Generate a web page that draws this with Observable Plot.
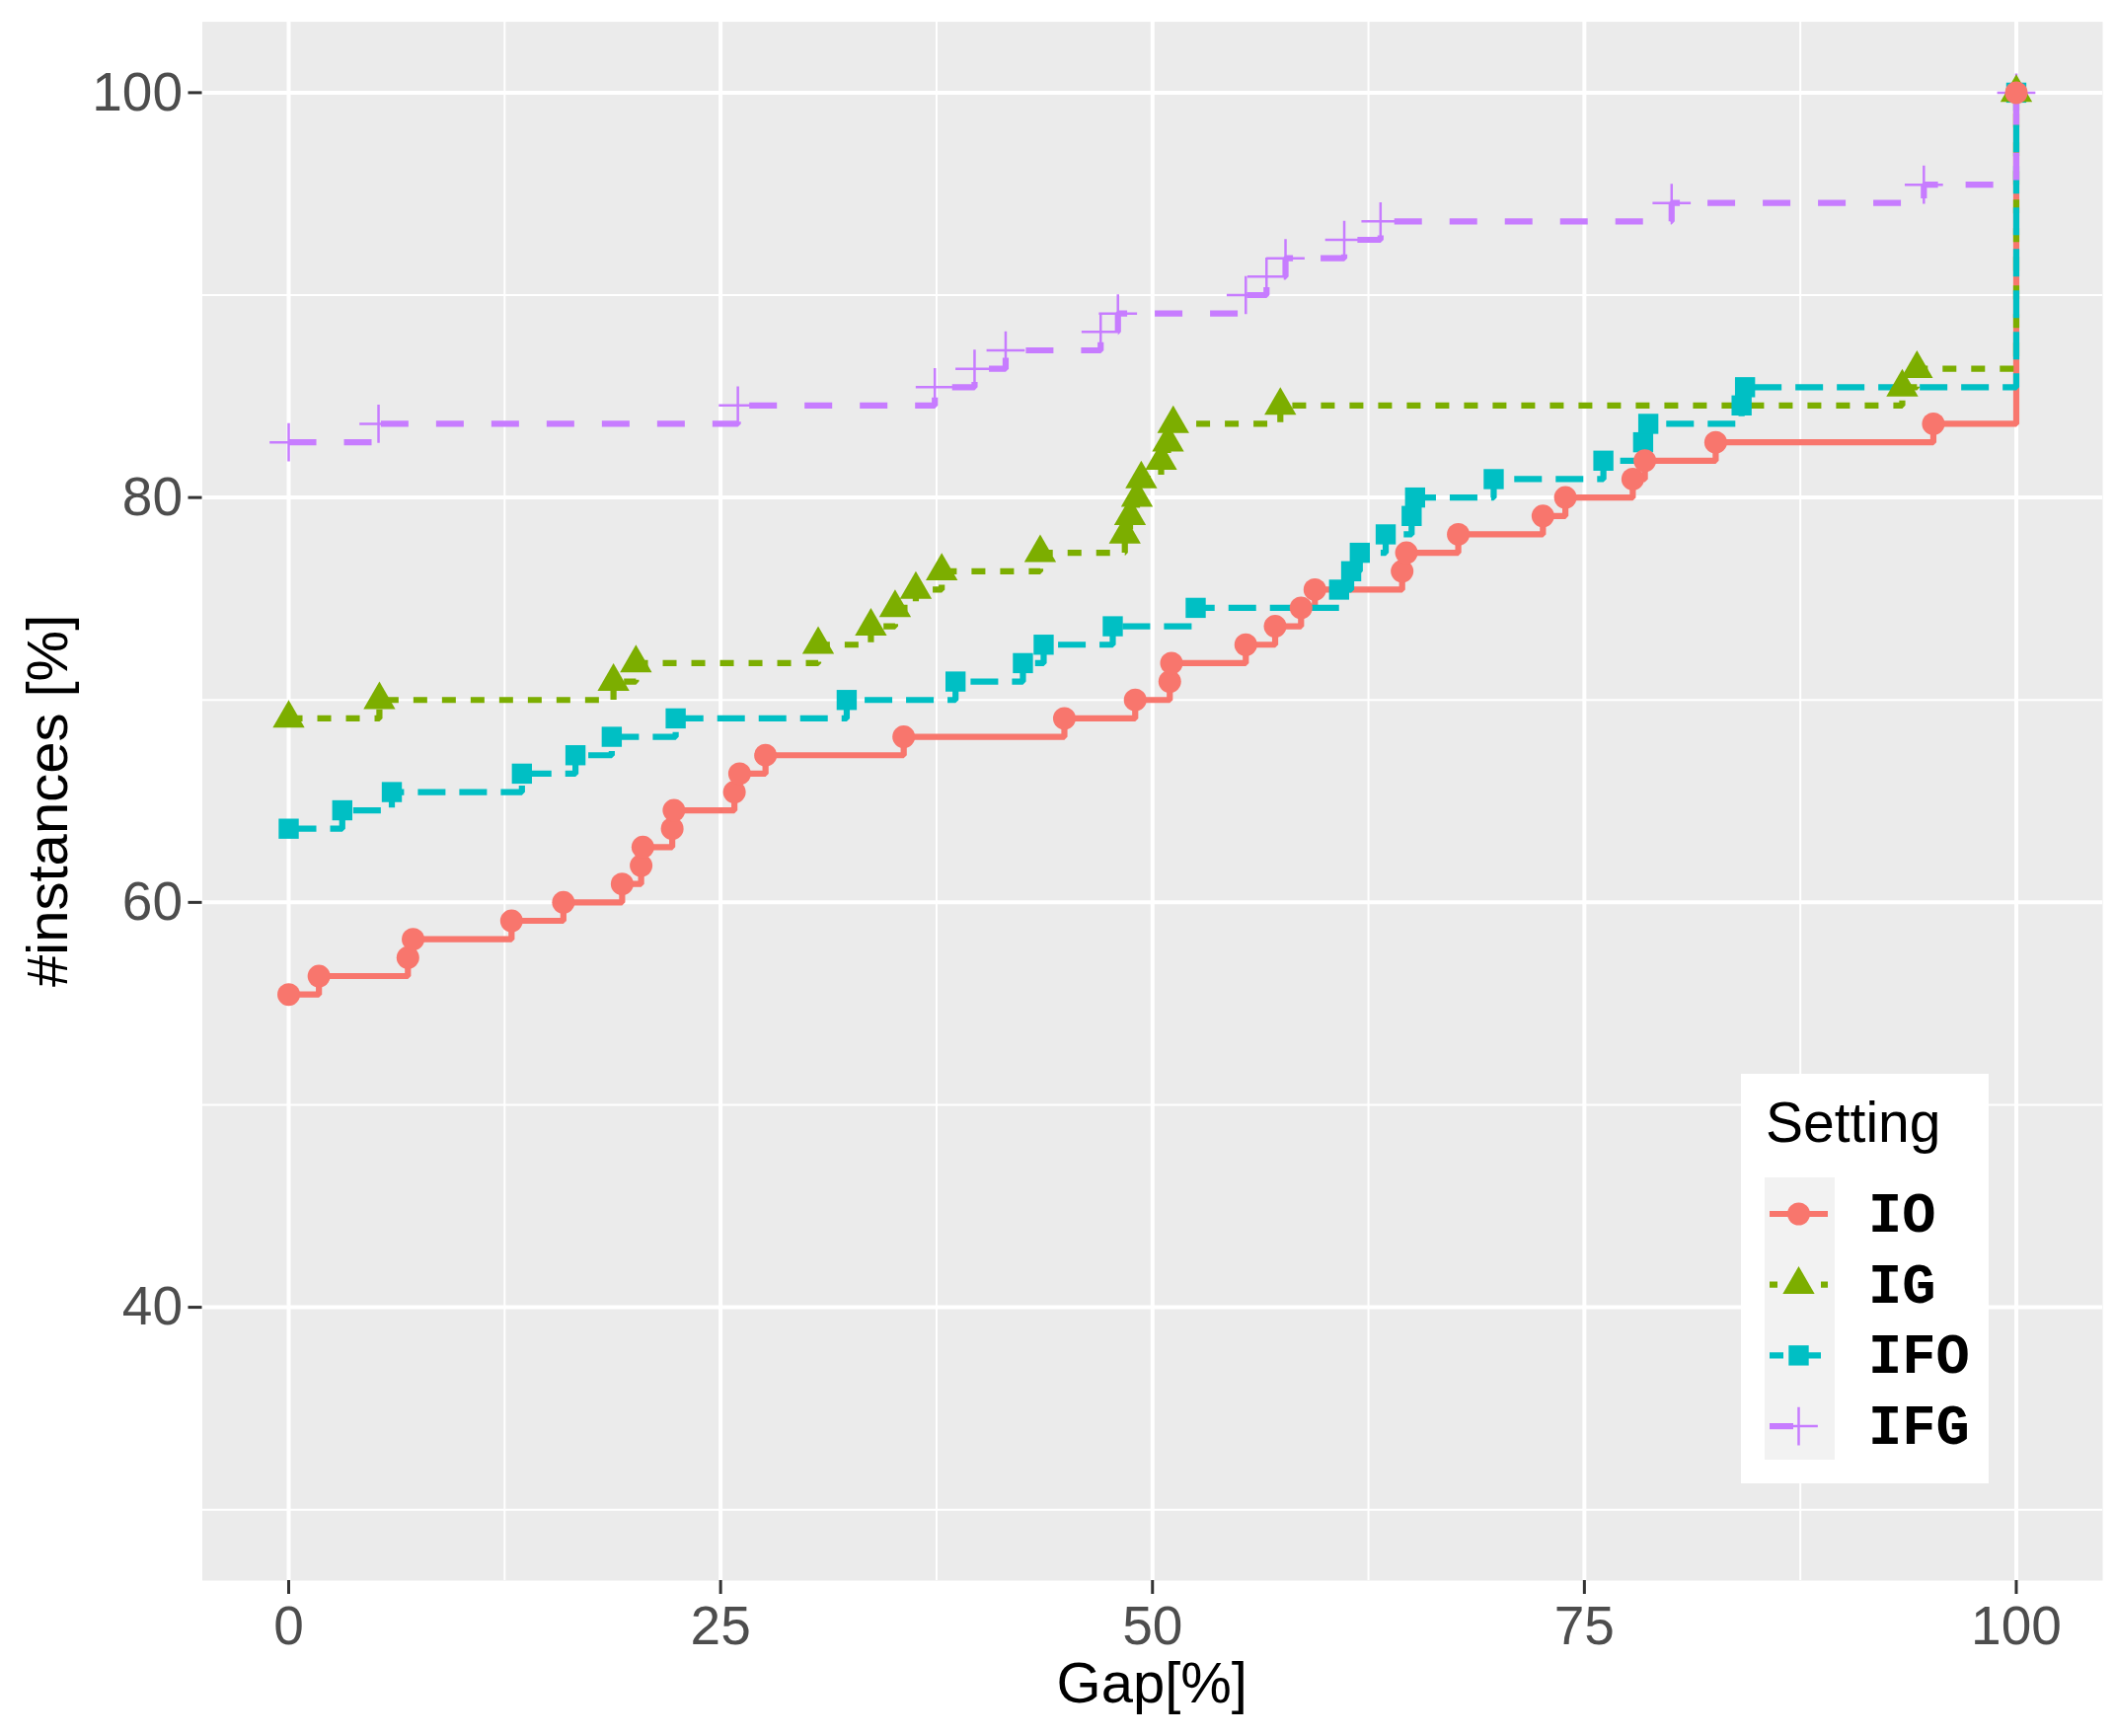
<!DOCTYPE html>
<html>
<head>
<meta charset="utf-8">
<script src="https://cdn.jsdelivr.net/npm/d3@7"></script>
<script src="https://cdn.jsdelivr.net/npm/@observablehq/plot@0.6"></script>
<style>
  html, body { margin: 0; padding: 0; background: #ffffff; overflow: hidden; }
  #chart svg { display: block; }
</style>
</head>
<body>
<div id="chart"></div>
<script>
// ---------------- data ----------------
const settings = ["IO", "IG", "IFO", "IFG"];
const colors   = ["#F8766D", "#7CAE00", "#00BFC4", "#C77CFF"];

const ioGap  = [0, 1.75, 6.9, 7.2, 12.9, 15.9, 19.3, 20.4, 20.5, 22.2, 22.3, 25.8, 26.1, 27.6, 35.6, 44.9, 49.0, 51.0, 51.1, 55.4, 57.1, 58.6, 59.4, 64.45, 64.7, 67.7, 72.6, 73.9, 77.8, 78.5, 82.6, 95.2, 100];
const ioInst = [55.45, 56.36, 57.27, 58.18, 59.09, 60.00, 60.91, 61.82, 62.73, 63.64, 64.55, 65.45, 66.36, 67.27, 68.18, 69.09, 70.00, 70.91, 71.82, 72.73, 73.64, 74.55, 75.45, 76.36, 77.27, 78.18, 79.09, 80.00, 80.91, 81.82, 82.73, 83.64, 100];

const igGap  = [0, 5.25, 18.8, 20.1, 30.65, 33.7, 35.1, 36.3, 37.8, 43.5, 48.4, 48.7, 49.1, 49.35, 50.5, 50.9, 51.2, 57.4, 93.4, 94.25, 100];
const igInst = [69.09, 70.00, 70.91, 71.82, 72.73, 73.64, 74.55, 75.45, 76.36, 77.27, 78.18, 79.09, 80.00, 80.91, 81.82, 82.73, 83.64, 84.55, 85.45, 86.36, 100];

const ifoGap  = [0, 3.1, 5.97, 13.5, 16.6, 18.7, 22.4, 32.3, 38.6, 42.5, 43.7, 47.7, 52.5, 60.8, 61.5, 62.0, 63.5, 65.0, 65.2, 69.75, 76.1, 78.4, 78.7, 84.1, 84.3, 100];
const ifoInst = [63.64, 64.55, 65.45, 66.36, 67.27, 68.18, 69.09, 70.00, 70.91, 71.82, 72.73, 73.64, 74.55, 75.45, 76.36, 77.27, 78.18, 79.09, 80.00, 80.91, 81.82, 82.73, 83.64, 84.55, 85.45, 100];

const ifgGap  = [0, 5.2, 26.0, 37.4, 39.7, 41.5, 47.0, 48.0, 55.4, 56.6, 57.7, 61.1, 63.2, 80.05, 94.65, 100];
const ifgInst = [82.73, 83.64, 84.55, 85.45, 86.36, 87.27, 88.18, 89.09, 90.00, 90.91, 91.82, 92.73, 93.64, 94.55, 95.45, 100];

const xTicks = [0, 25, 50, 75, 100];
const yTicks = [40, 60, 80, 100];
const xMinor = [12.5, 37.5, 62.5, 87.5];
const yMinor = [30, 50, 70, 90];

const xLabel = "Gap[%]";
const yLabel = "#instances [%]";
const legendTitle = "Setting";

// ---------------- build tables ----------------
const toRows = (gx, gy, s) => gx.map((g, i) => ({gap: g, inst: gy[i], setting: s}));
const series = [
  toRows(ioGap, ioInst, "IO"),
  toRows(igGap, igInst, "IG"),
  toRows(ifoGap, ifoInst, "IFO"),
  toRows(ifgGap, ifgInst, "IFG")
];

// styles
const dashes  = [null, "14,15", "28,14", "28,28"];
const symbols = ["circle", "triangle", "square", "plus"];
const radius  = [11.5, 12, 11.5, 12.5];
const LW = 6.2;

const FONT = "'Liberation Sans', Arial, Helvetica, sans-serif";
const W = 2143, H = 1759;
const mL = 204.5, mR = 13, mT = 21.6, mB = 158;

const lineMarks = series.map((rows, i) =>
  Plot.line(rows, {
    x: "gap", y: "inst", curve: "step-after",
    stroke: colors[i], strokeWidth: LW,
    strokeDasharray: dashes[i] ?? undefined,
    strokeLinecap: "butt", strokeLinejoin: "miter"
  })
);

const dotMarks = [3, 2, 1, 0].map(i =>
  symbols[i] === "plus"
    ? Plot.dot(series[i], {x: "gap", y: "inst", symbol: "plus", r: radius[i], stroke: colors[i], strokeWidth: 2.5, fill: "none"})
    : Plot.dot(series[i], {x: "gap", y: "inst", symbol: symbols[i], r: radius[i], fill: colors[i], stroke: "none"})
);

const chart = Plot.plot({
  width: W, height: H,
  marginLeft: mL, marginRight: mR, marginTop: mT, marginBottom: mB,
  x: {domain: [-5, 105]},
  y: {domain: [26.5, 103.5]},
  style: {fontFamily: FONT, background: "#ffffff", color: "#000000"},
  marks: [
    Plot.frame({fill: "#EBEBEB", stroke: "none"}),
    Plot.gridX(xMinor, {stroke: "#ffffff", strokeOpacity: 1, strokeWidth: 2}),
    Plot.gridY(yMinor, {stroke: "#ffffff", strokeOpacity: 1, strokeWidth: 2}),
    Plot.gridX(xTicks, {stroke: "#ffffff", strokeOpacity: 1, strokeWidth: 4}),
    Plot.gridY(yTicks, {stroke: "#ffffff", strokeOpacity: 1, strokeWidth: 4}),
    Plot.axisX(xTicks, {tickSize: 14, tickPadding: 11, fontSize: 55, stroke: "#333333", strokeWidth: 3, fill: "#4D4D4D", label: null, tickFormat: d => String(d)}),
    Plot.axisY(yTicks, {tickSize: 14, tickPadding: 6, fontSize: 55, stroke: "#333333", strokeWidth: 3, fill: "#4D4D4D", label: null, tickFormat: d => String(d)}),
    ...lineMarks,
    ...dotMarks
  ]
});

document.getElementById("chart").appendChild(chart);

// ---------------- titles & legend (added to the same svg) ----------------
const svg = d3.select(chart);
const panelCx = (mL + (W - mR)) / 2;
const panelCy = (mT + (H - mB)) / 2;

svg.append("text")
  .attr("x", panelCx).attr("y", 1725)
  .attr("text-anchor", "middle")
  .attr("font-family", FONT).attr("font-size", 58).attr("fill", "#000")
  .text(xLabel);

svg.append("text")
  .attr("transform", `translate(68,${panelCy}) rotate(-90)`)
  .attr("text-anchor", "middle")
  .attr("font-family", FONT).attr("font-size", 58).attr("fill", "#000")
  .text(yLabel);

const lg = svg.append("g").attr("text-anchor", "start");
lg.append("rect").attr("x", 1764).attr("y", 1088).attr("width", 251).attr("height", 415).attr("fill", "#ffffff");
lg.append("text").attr("x", 1789).attr("y", 1157).attr("text-anchor", "start")
  .attr("font-family", FONT).attr("font-size", 57).attr("fill", "#000").text(legendTitle);
lg.append("rect").attr("x", 1788).attr("y", 1193).attr("width", 71).attr("height", 286).attr("fill", "#F2F2F2");

const keyX0 = 1793, keyX1 = 1852, keyCx = (keyX0 + keyX1) / 2;
settings.forEach((s, i) => {
  const cy = 1230 + i * 71.7;
  const ln = lg.append("line").attr("x1", keyX0).attr("x2", keyX1).attr("y1", cy).attr("y2", cy)
    .attr("stroke", colors[i]).attr("stroke-width", LW).attr("stroke-linecap", "butt");
  if (dashes[i]) ln.attr("stroke-dasharray", i === 1 ? "8,15,14,15" : (i === 2 ? "14,10,28,14" : "24,40")) ;
  const symType = {circle: d3.symbolCircle, triangle: d3.symbolTriangle, square: d3.symbolSquare, plus: d3.symbolPlus}[symbols[i]];
  const path = d3.symbol(symType, Math.PI * radius[i] * radius[i])();
  const p = lg.append("path").attr("d", path).attr("transform", `translate(${keyCx},${cy})`);
  if (symbols[i] === "plus") p.attr("fill", "none").attr("stroke", colors[i]).attr("stroke-width", 2.5);
  else p.attr("fill", colors[i]);
  lg.append("text").attr("x", 1893).attr("y", cy + 18).attr("text-anchor", "start")
    .attr("font-family", "'Liberation Mono', 'Courier New', monospace").attr("font-weight", "bold")
    .attr("font-size", 57).attr("fill", "#000").text(s);
});
</script>
</body>
</html>
